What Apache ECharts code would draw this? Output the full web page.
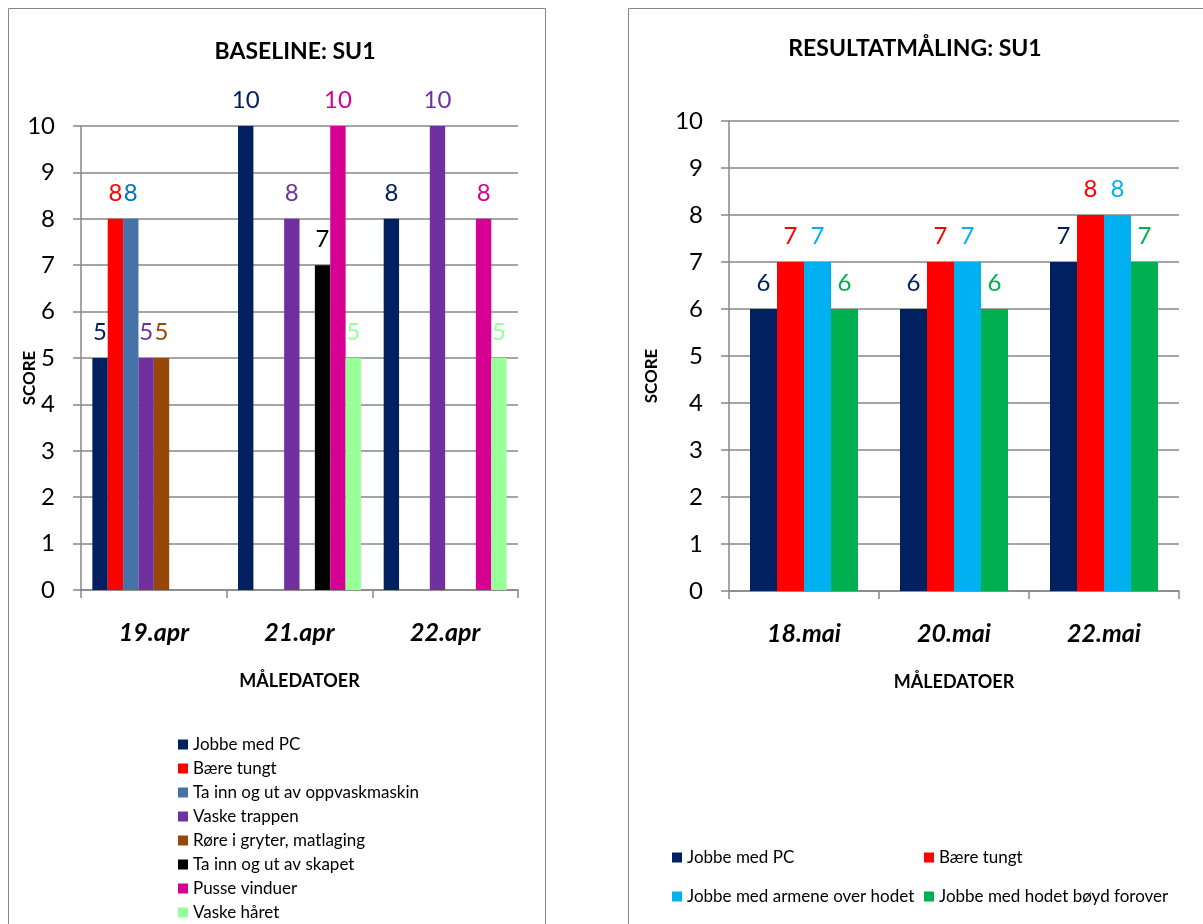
<!DOCTYPE html>
<html>
<head>
<meta charset="utf-8">
<script src="https://cdn.jsdelivr.net/npm/echarts@6/dist/echarts.min.js"></script>
<style>
  html, body { margin: 0; padding: 0; background: #ffffff; overflow: hidden; }
  #chart { width: 1203px; height: 924px; }
</style>
</head>
<body>
<div id="chart"></div>
<script>
// Baseline measurements (SU1)
const baselineDates = ['19.apr', '21.apr', '22.apr'];
const baseJobbeMedPC = [5, 10, 8];
const baseBaereTungt = [8, null, null];
const baseOppvaskmaskin = [8, null, null];
const baseVaskeTrappen = [5, 8, 10];
const baseRoreIGryter = [5, null, null];
const baseSkapet = [null, 7, null];
const basePusseVinduer = [null, 10, 8];
const baseVaskeHaret = [null, 5, 5];

// Result measurements (SU1)
const resultDates = ['18.mai', '20.mai', '22.mai'];
const resJobbeMedPC = [6, 6, 7];
const resBaereTungt = [7, 7, 8];
const resArmeneOverHodet = [7, 7, 8];
const resHodetBoydForover = [6, 6, 7];

// Score scale
const scoreMin = 0;
const scoreMax = 10;
const scoreStep = 1;

const FONT = 'Lato';
const GRID_GREY = '#878787';

const baselineSeries = [
  { name: 'Jobbe med PC', data: baseJobbeMedPC, color: '#002060', labelColor: '#002060' },
  { name: 'Bære tungt', data: baseBaereTungt, color: '#FF0000', labelColor: '#FF0000' },
  { name: 'Ta inn og ut av oppvaskmaskin', data: baseOppvaskmaskin, color: '#4672A8', labelColor: '#0070C0' },
  { name: 'Vaske trappen', data: baseVaskeTrappen, color: '#7030A0', labelColor: '#7030A0' },
  { name: 'Røre i gryter, matlaging', data: baseRoreIGryter, color: '#974806', labelColor: '#974806' },
  { name: 'Ta inn og ut av skapet', data: baseSkapet, color: '#000000', labelColor: '#000000' },
  { name: 'Pusse vinduer', data: basePusseVinduer, color: '#D60093', labelColor: '#D60093' },
  { name: 'Vaske håret', data: baseVaskeHaret, color: '#99FF99', labelColor: '#99FF99' }
];

const resultSeries = [
  { name: 'Jobbe med PC', data: resJobbeMedPC, color: '#002060', labelColor: '#002060' },
  { name: 'Bære tungt', data: resBaereTungt, color: '#FF0000', labelColor: '#FF0000' },
  { name: 'Jobbe med armene over hodet', data: resArmeneOverHodet, color: '#00B0F0', labelColor: '#00B0F0' },
  { name: 'Jobbe med hodet bøyd forover', data: resHodetBoydForover, color: '#00B050', labelColor: '#00B050' }
];

function buildBars(defs, axisIndex, catGap) {
  return defs.map(d => ({
    type: 'bar',
    name: d.name,
    xAxisIndex: axisIndex,
    yAxisIndex: axisIndex,
    data: d.data,
    barGap: '0%',
    barCategoryGap: catGap,
    itemStyle: { color: d.color },
    emphasis: { disabled: true },
    label: {
      show: true,
      position: 'top',
      distance: 14,
      fontFamily: FONT,
      fontSize: 24,
      color: d.labelColor
    }
  }));
}

function valueAxis(gridIndex, nameGap) {
  return {
    type: 'value',
    gridIndex: gridIndex,
    min: scoreMin,
    max: scoreMax,
    interval: scoreStep,
    name: 'SCORE',
    nameLocation: 'middle',
    nameRotate: 90,
    nameGap: nameGap,
    nameMoveOverlap: false,
    nameTextStyle: {
      fontFamily: FONT, fontWeight: 'bold', fontSize: 17, color: '#000',
      padding: [0, 40, 0, 0]
    },
    axisLine: { show: true, lineStyle: { color: GRID_GREY, width: 1.5 } },
    axisTick: { show: true, length: 8, lineStyle: { color: GRID_GREY, width: 1.5 } },
    splitLine: { show: true, lineStyle: { color: GRID_GREY, width: 1.5 } },
    axisLabel: { fontFamily: FONT, fontSize: 24, color: '#000', margin: 26 }
  };
}

function categoryAxis(gridIndex, cats) {
  return {
    type: 'category',
    gridIndex: gridIndex,
    data: cats,
    name: 'MÅLEDATOER',
    nameLocation: 'middle',
    nameGap: 82,
    nameTextStyle: { fontFamily: FONT, fontWeight: 'bold', fontSize: 18, color: '#000' },
    axisLine: { show: true, lineStyle: { color: GRID_GREY, width: 1.5 } },
    axisTick: { show: true, length: 8, lineStyle: { color: GRID_GREY, width: 1.5 } },
    axisLabel: {
      fontFamily: FONT, fontSize: 25, fontWeight: 'bold', fontStyle: 'italic',
      color: '#000', margin: 30
    }
  };
}

const legendText = { fontFamily: FONT, fontSize: 17, color: '#000', lineHeight: 17 };

const chart = echarts.init(document.getElementById('chart'), null, { renderer: 'canvas' });

chart.setOption({
  animation: false,
  backgroundColor: '#ffffff',
  textStyle: { fontFamily: FONT },
  title: [
    {
      text: 'BASELINE: SU1',
      left: 295, top: 40, textAlign: 'center', padding: 0,
      textStyle: { fontFamily: FONT, fontWeight: 'bold', fontSize: 23, color: '#000' }
    },
    {
      text: 'RESULTATMÅLING: SU1',
      left: 915, top: 37, textAlign: 'center', padding: 0,
      textStyle: { fontFamily: FONT, fontWeight: 'bold', fontSize: 23, color: '#000' }
    }
  ],
  legend: [
    {
      orient: 'vertical', left: 178, top: 736, height: 260, padding: 0,
      itemWidth: 10, itemHeight: 10, itemGap: 7, icon: 'rect',
      selectedMode: false, textStyle: legendText,
      data: baselineSeries.map(d => d.name)
    },
    {
      orient: 'vertical', left: 672, top: 849, padding: 0,
      itemWidth: 10, itemHeight: 10, itemGap: 22, icon: 'rect',
      selectedMode: false, textStyle: legendText,
      data: ['Jobbe med PC', 'Jobbe med armene over hodet']
    },
    {
      orient: 'vertical', left: 924, top: 849, padding: 0,
      itemWidth: 10, itemHeight: 10, itemGap: 22, icon: 'rect',
      selectedMode: false, textStyle: legendText,
      data: ['Bære tungt', 'Jobbe med hodet bøyd forover']
    }
  ],
  grid: [
    { left: 81, top: 126, width: 437, height: 464, containLabel: false },
    { left: 729, top: 121, width: 450, height: 470, containLabel: false }
  ],
  xAxis: [categoryAxis(0, baselineDates), categoryAxis(1, resultDates)],
  yAxis: [valueAxis(0, 43), valueAxis(1, 69)],
  series: buildBars(baselineSeries, 0, '15.6%').concat(buildBars(resultSeries, 1, '28%')),
  graphic: [
    {
      type: 'rect', silent: true, z: -1,
      shape: { x: 8.5, y: 8.5, width: 537, height: 1000 },
      style: { fill: null, stroke: '#868686', lineWidth: 1 }
    },
    {
      type: 'rect', silent: true, z: -1,
      shape: { x: 628.5, y: 8.5, width: 700, height: 1000 },
      style: { fill: null, stroke: '#868686', lineWidth: 1 }
    }
  ]
});
</script>
</body>
</html>
